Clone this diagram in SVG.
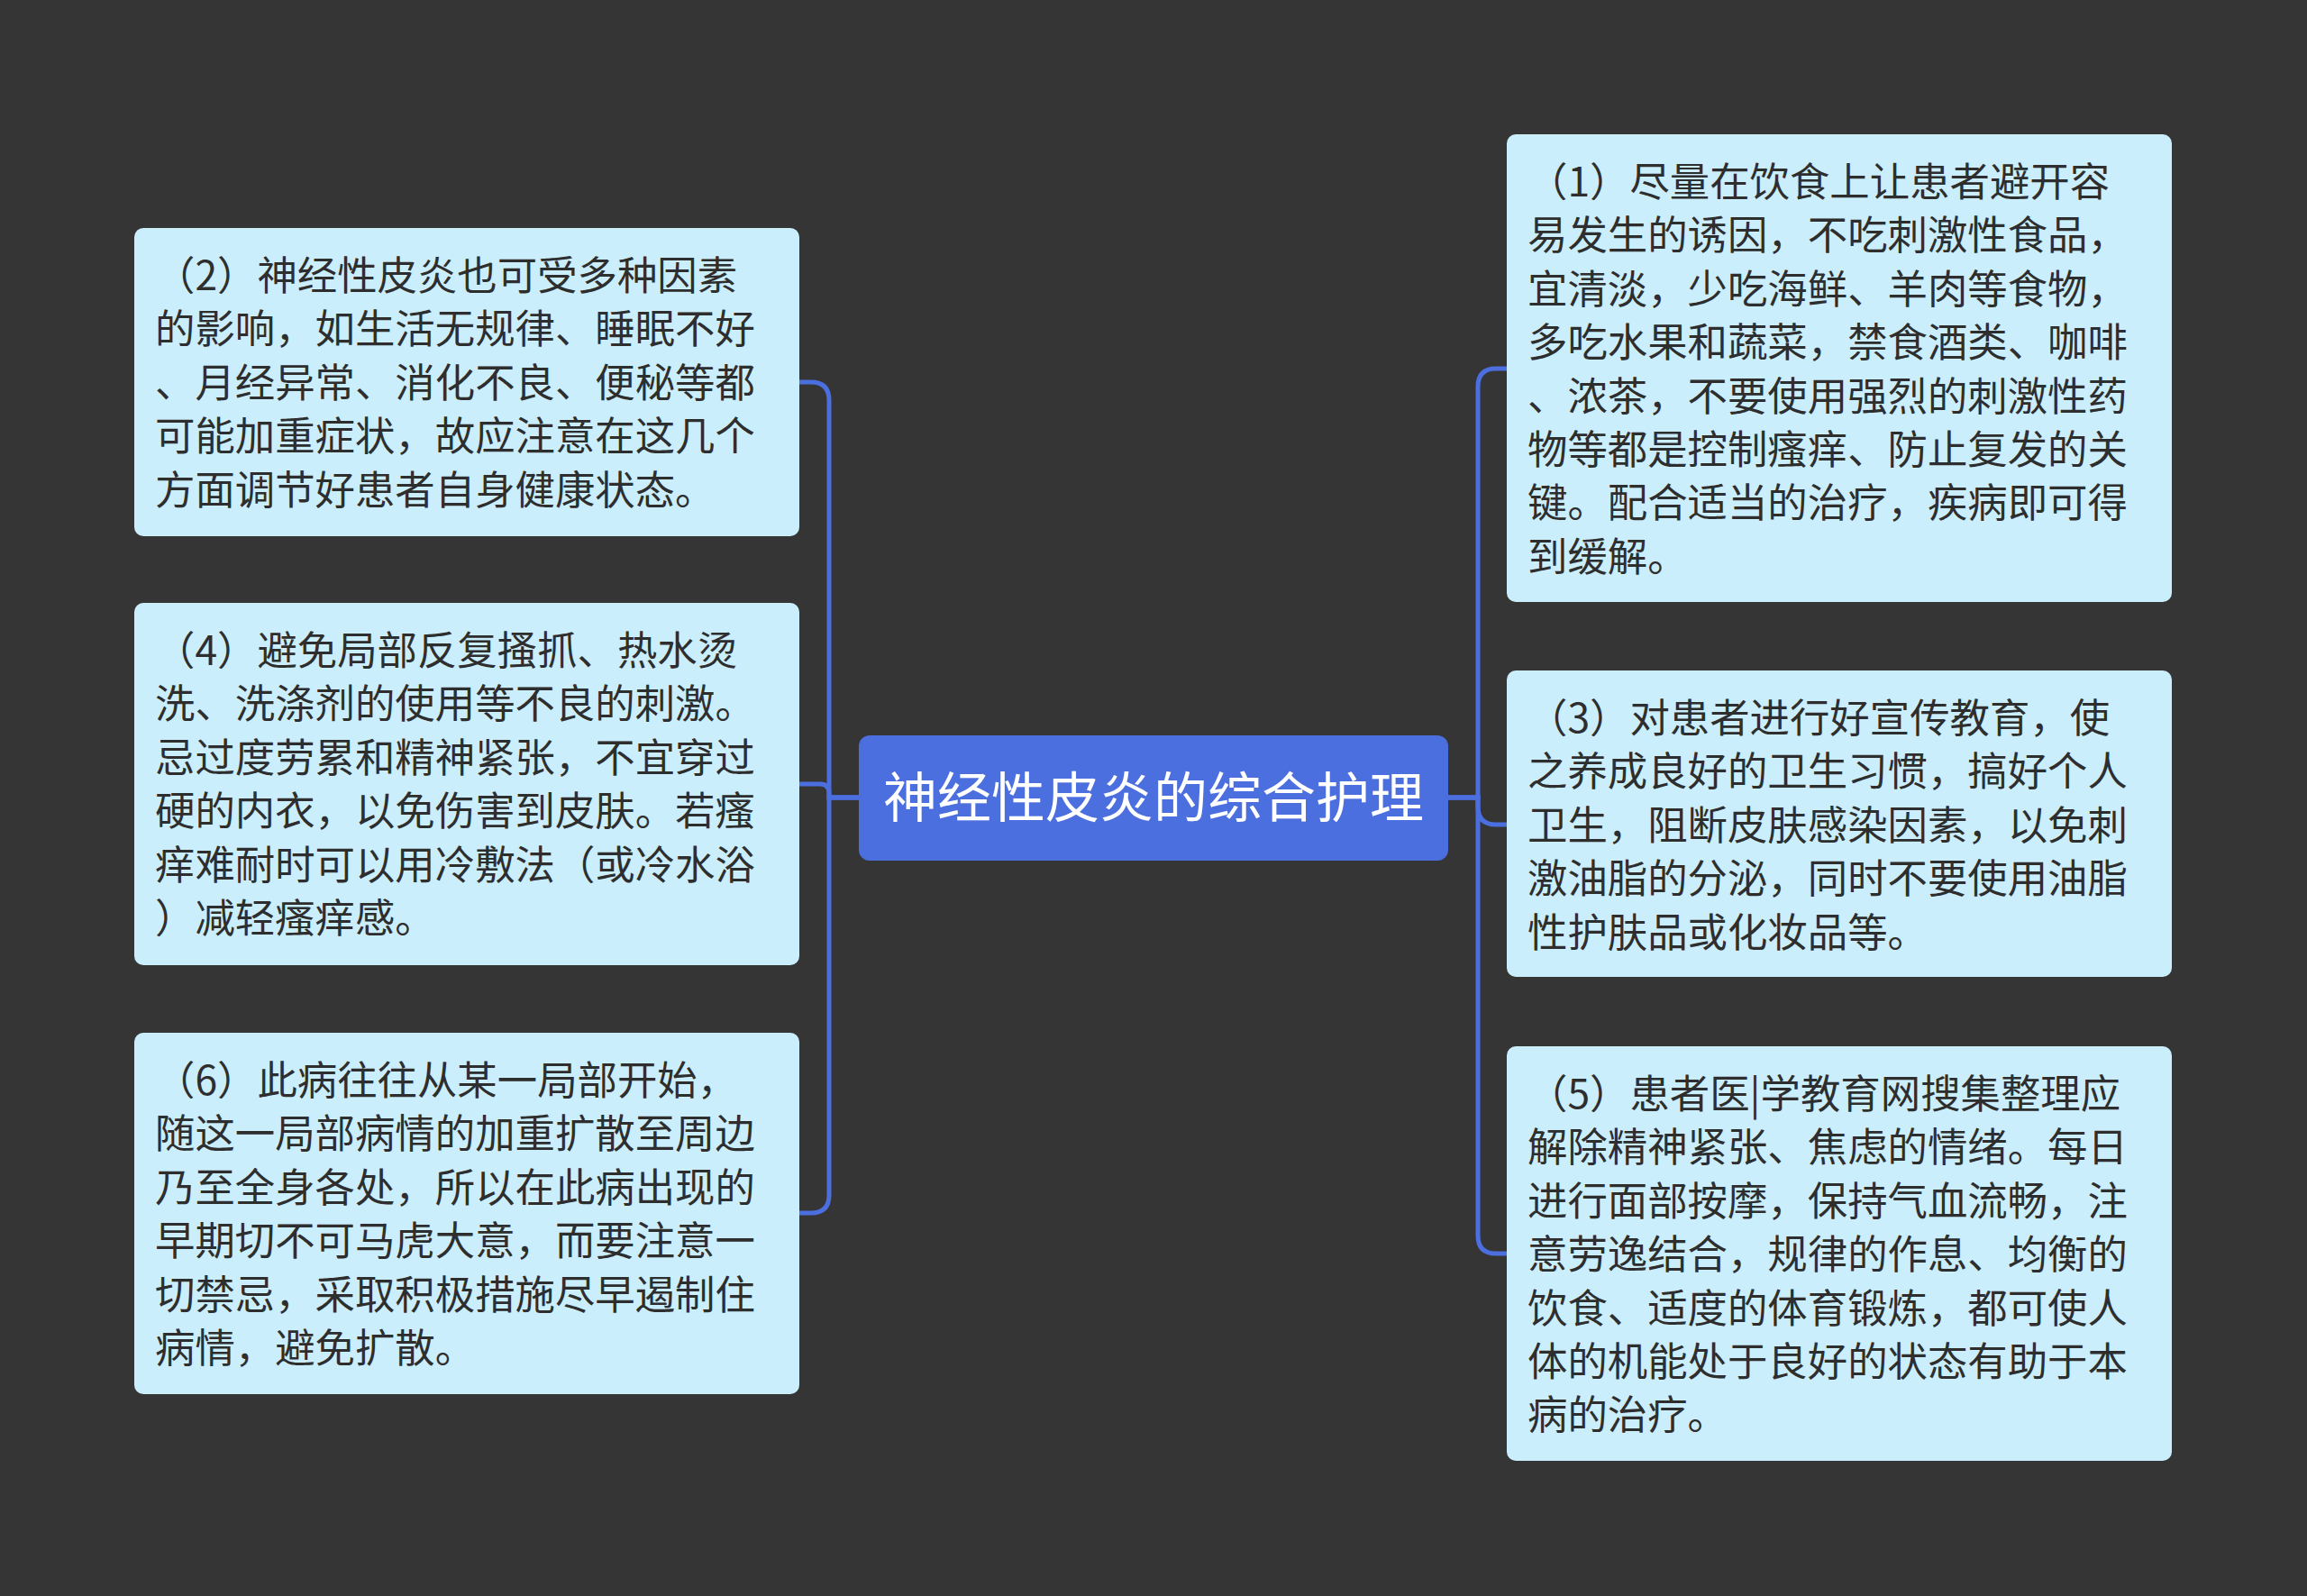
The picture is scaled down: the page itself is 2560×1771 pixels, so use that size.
<svg xmlns="http://www.w3.org/2000/svg" width="2560" height="1771" viewBox="0 0 2560 1771">
<style>
.bg{fill:#363535}
.box{fill:#cbeefd}
.root{fill:#4c6fe0}
.t{font-family:"Noto Sans CJK SC","Noto Sans",sans-serif;font-size:44.4px;fill:#2e2e2e}
.rt{font-family:"Noto Sans CJK SC","Noto Sans",sans-serif;font-size:60px;fill:#ffffff}
.c{fill:none;stroke:#4c6fe0;stroke-width:5}
</style>
<rect class="bg" x="0" y="0" width="2560" height="1771"/>
<g id="connectors">
<path class="c" d="M953,885 H920 V444 Q920,424 900,424 H887"/>
<path class="c" d="M953,885 H920 V880 Q920,870 910,870 H887"/>
<path class="c" d="M953,885 H920 V1326 Q920,1346 900,1346 H887"/>
<path class="c" d="M1607,885 H1640 V429 Q1640,409 1660,409 H1672"/>
<path class="c" d="M1607,885 H1640 V895 Q1640,915 1660,915 H1672"/>
<path class="c" d="M1607,885 H1640 V1371 Q1640,1391 1660,1391 H1672"/>
</g>
<g id="root">
<rect class="root" x="953" y="816" width="654" height="139" rx="12"/>
<text class="rt" x="1280" y="907" text-anchor="middle">神经性皮炎的综合护理</text>
</g>
<g id="n2">
<rect class="box" x="149" y="253" width="738" height="342" rx="10"/>
<text class="t" x="172" y="322">（2）神经性皮炎也可受多种因素</text>
<text class="t" x="172" y="381.4">的影响，如生活无规律、睡眠不好</text>
<text class="t" x="172" y="440.8">、月经异常、消化不良、便秘等都</text>
<text class="t" x="172" y="500.2">可能加重症状，故应注意在这几个</text>
<text class="t" x="172" y="559.6">方面调节好患者自身健康状态。</text>
</g>
<g id="n4">
<rect class="box" x="149" y="669" width="738" height="402" rx="10"/>
<text class="t" x="172" y="738">（4）避免局部反复搔抓、热水烫</text>
<text class="t" x="172" y="797.4">洗、洗涤剂的使用等不良的刺激。</text>
<text class="t" x="172" y="856.8">忌过度劳累和精神紧张，不宜穿过</text>
<text class="t" x="172" y="916.2">硬的内衣，以免伤害到皮肤。若瘙</text>
<text class="t" x="172" y="975.6">痒难耐时可以用冷敷法（或冷水浴</text>
<text class="t" x="172" y="1035">）减轻瘙痒感。</text>
</g>
<g id="n6">
<rect class="box" x="149" y="1146" width="738" height="401" rx="10"/>
<text class="t" x="172" y="1215">（6）此病往往从某一局部开始，</text>
<text class="t" x="172" y="1274.4">随这一局部病情的加重扩散至周边</text>
<text class="t" x="172" y="1333.8">乃至全身各处，所以在此病出现的</text>
<text class="t" x="172" y="1393.2">早期切不可马虎大意，而要注意一</text>
<text class="t" x="172" y="1452.6">切禁忌，采取积极措施尽早遏制住</text>
<text class="t" x="172" y="1512">病情，避免扩散。</text>
</g>
<g id="n1">
<rect class="box" x="1672" y="149" width="738" height="519" rx="10"/>
<text class="t" x="1695" y="218">（1）尽量在饮食上让患者避开容</text>
<text class="t" x="1695" y="277.4">易发生的诱因，不吃刺激性食品，</text>
<text class="t" x="1695" y="336.8">宜清淡，少吃海鲜、羊肉等食物，</text>
<text class="t" x="1695" y="396.2">多吃水果和蔬菜，禁食酒类、咖啡</text>
<text class="t" x="1695" y="455.6">、浓茶，不要使用强烈的刺激性药</text>
<text class="t" x="1695" y="515">物等都是控制瘙痒、防止复发的关</text>
<text class="t" x="1695" y="574.4">键。配合适当的治疗，疾病即可得</text>
<text class="t" x="1695" y="633.8">到缓解。</text>
</g>
<g id="n3">
<rect class="box" x="1672" y="744" width="738" height="340" rx="10"/>
<text class="t" x="1695" y="813">（3）对患者进行好宣传教育，使</text>
<text class="t" x="1695" y="872.4">之养成良好的卫生习惯，搞好个人</text>
<text class="t" x="1695" y="931.8">卫生，阻断皮肤感染因素，以免刺</text>
<text class="t" x="1695" y="991.2">激油脂的分泌，同时不要使用油脂</text>
<text class="t" x="1695" y="1050.6">性护肤品或化妆品等。</text>
</g>
<g id="n5">
<rect class="box" x="1672" y="1161" width="738" height="460" rx="10"/>
<text class="t" x="1695" y="1230">（5）患者医|学教育网搜集整理应</text>
<text class="t" x="1695" y="1289.4">解除精神紧张、焦虑的情绪。每日</text>
<text class="t" x="1695" y="1348.8">进行面部按摩，保持气血流畅，注</text>
<text class="t" x="1695" y="1408.2">意劳逸结合，规律的作息、均衡的</text>
<text class="t" x="1695" y="1467.6">饮食、适度的体育锻炼，都可使人</text>
<text class="t" x="1695" y="1527">体的机能处于良好的状态有助于本</text>
<text class="t" x="1695" y="1586.4">病的治疗。</text>
</g>
</svg>
